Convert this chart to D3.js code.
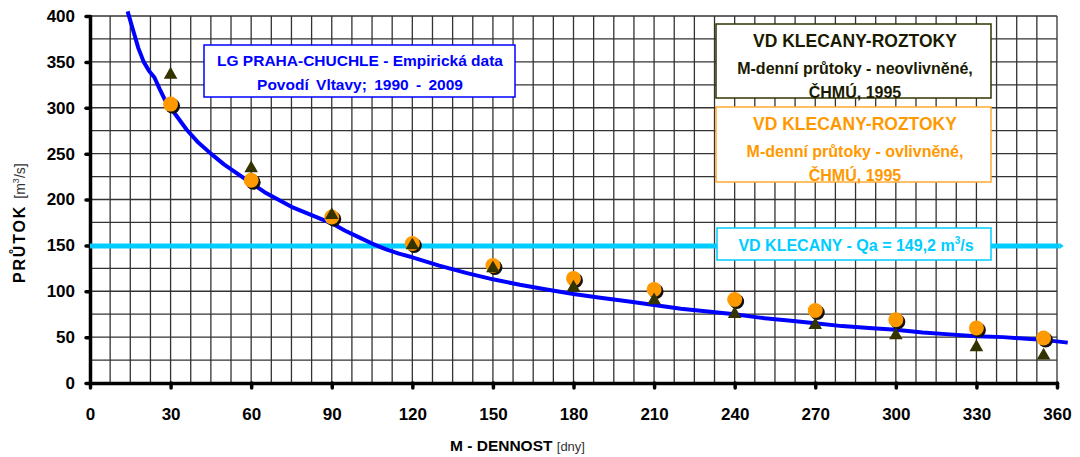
<!DOCTYPE html>
<html><head><meta charset="utf-8">
<script src="https://cdn.jsdelivr.net/npm/d3@7"></script>
<style>
html,body{margin:0;padding:0;background:#fff;}
svg{display:block;font-family:"Liberation Sans",Arial,sans-serif;}
</style></head>
<body><svg id="c" width="1080" height="457"></svg>
<script>
// ---- data ----
const curveDays = [14,16,18,20,22,24,26,28,30,33,36,40,45,50,55,60,65,70,75,80,85,90,95,100,105,110,115,120,130,140,150,160,170,180,190,200,210,220,230,240,250,260,270,280,290,300,310,320,330,340,350,355,364];
const curveFlow = [405,385,365,350,340,333,320,308,300,288,276,263,250,238,228,218,208,200,192,186,180,174,166,159,152,146,141,137,128,120,113,107,102,97,93,89,85,81,78,75,71,68,65,62,60,58,55,53,51,50,48,47,44];
const pointDays = [30,60,90,120,150,180,210,240,270,300,330,355];
const influenced = [304,221,181,152,128,114,102,91,79,69,60,49];     // ovlivněné (orange)
const uninfluenced = [336,234,183,150,125,104,90,75,63,52,39,30];   // neovlivněné (triangles)
const qa = 149.2;
const xTicks = [0,30,60,90,120,150,180,210,240,270,300,330,360];
const yTicks = [0,50,100,150,200,250,300,350,400];

// ---- setup ----
const svg = d3.select("#c");
const x = d3.scaleLinear().domain([0,360]).range([90,1057]);
const y = d3.scaleLinear().domain([0,400]).range([383,16]);

// grid
const g = svg.append("g");
g.selectAll(".vg").data(d3.range(0,360.1,7.5)).join("line")
  .attr("x1",d=>x(d)).attr("x2",d=>x(d)).attr("y1",y(0)).attr("y2",y(400))
  .attr("stroke","#333").attr("stroke-width",1.3);
g.selectAll(".hg").data(d3.range(0,400.1,25)).join("line")
  .attr("x1",x(0)).attr("x2",x(360)).attr("y1",d=>y(d)).attr("y2",d=>y(d))
  .attr("stroke","#333").attr("stroke-width",1.3);

// axes
const ax = svg.append("g").attr("transform",`translate(0,${y(0)})`)
  .call(d3.axisBottom(x).tickValues(xTicks).tickSize(5).tickPadding(20).tickSizeOuter(0));
const ay = svg.append("g").attr("transform",`translate(${x(0)},0)`)
  .call(d3.axisLeft(y).tickValues(yTicks).tickSize(4).tickPadding(8).tickSizeOuter(0));
[ax,ay].forEach(a=>{
  a.select(".domain").attr("stroke","#000").attr("stroke-width",3.5).attr("stroke-linecap","round");
  a.selectAll(".tick line").attr("stroke","#000").attr("stroke-width",3.5).attr("stroke-linecap","round");
  a.selectAll(".tick text").attr("fill","#000").attr("font-size",17).attr("font-weight","bold")
    .attr("font-family","'Liberation Sans',Arial,sans-serif");
});
ay.selectAll(".tick text").attr("dx",-3);

// Qa line
svg.append("line").attr("x1",x(0)).attr("x2",x(361)).attr("y1",y(qa)).attr("y2",y(qa))
  .attr("stroke","#00ccff").attr("stroke-width",5);
svg.append("path").attr("d",`M${x(361)},${y(qa)-3}L${x(361)+4},${y(qa)}L${x(361)},${y(qa)+3}Z`).attr("fill","#00ccff");
svg.append("rect").attr("x",717).attr("y",228).attr("width",274).attr("height",32)
  .attr("fill","#fff").attr("stroke","#00ccff").attr("stroke-width",1.5);
const qt = svg.append("text").attr("x",856).attr("y",251).attr("text-anchor","middle")
  .attr("fill","#00ccff").attr("font-size",16).attr("font-weight","bold");
qt.append("tspan").text("VD KLECANY - Qa = 149,2 m");
qt.append("tspan").attr("font-size",10).attr("dy",-7).text("3");
qt.append("tspan").attr("dy",7).text("/s");

// curve
const line = d3.line().x((d,i)=>x(curveDays[i])).y(d=>y(d));
svg.append("path").datum(curveFlow).attr("d",line).attr("fill","none")
  .attr("stroke","#0000ff").attr("stroke-width",4).attr("stroke-linejoin","round");

// orange points with shadow
svg.selectAll(".sh").data(influenced).join("circle")
  .attr("cx",(d,i)=>x(pointDays[i])+2).attr("cy",d=>y(d)+2).attr("r",7.5).attr("fill","#111");
svg.selectAll(".or").data(influenced).join("circle")
  .attr("cx",(d,i)=>x(pointDays[i])).attr("cy",d=>y(d)).attr("r",7.5).attr("fill","#ff9900");
// triangles
const tri = d3.symbol().type(d3.symbolTriangle).size(80);
svg.selectAll(".tr").data(uninfluenced).join("path")
  .attr("transform",(d,i)=>`translate(${x(pointDays[i])},${y(d)})`).attr("d",tri).attr("fill","#333300");

// blue box
svg.append("rect").attr("x",204).attr("y",45).attr("width",311).attr("height",52)
  .attr("fill","#fff").attr("stroke","#0000ff").attr("stroke-width",1.5);
svg.append("text").attr("x",360).attr("y",66).attr("text-anchor","middle").attr("fill","#0000ff")
  .attr("font-size",15.5).attr("font-weight","bold").text("LG PRAHA-CHUCHLE - Empirická data");
svg.append("text").attr("x",360).attr("y",90).attr("text-anchor","middle").attr("fill","#0000ff")
  .attr("font-size",15.5).attr("font-weight","bold").attr("word-spacing",3).text("Povodí Vltavy; 1990 - 2009");

// black box
svg.append("rect").attr("x",716).attr("y",24).attr("width",275).attr("height",74)
  .attr("fill","#fff").attr("stroke","#333300").attr("stroke-width",1.5);
svg.append("text").attr("x",855).attr("y",47).attr("text-anchor","middle").attr("fill","#1a1a00")
  .attr("font-size",17.5).attr("font-weight","bold").text("VD KLECANY-ROZTOKY");
svg.append("text").attr("x",855).attr("y",74).attr("text-anchor","middle").attr("fill","#1a1a00")
  .attr("font-size",16).attr("font-weight","bold").text("M-denní průtoky - neovlivněné,");
svg.append("text").attr("x",855).attr("y",98).attr("text-anchor","middle").attr("fill","#1a1a00")
  .attr("font-size",16).attr("font-weight","bold").text("ČHMÚ, 1995");

// orange box
svg.append("rect").attr("x",716).attr("y",107).attr("width",275).attr("height",75)
  .attr("fill","#fff").attr("stroke","#ffaa33").attr("stroke-width",1.5);
svg.append("text").attr("x",855).attr("y",130).attr("text-anchor","middle").attr("fill","#ff9900")
  .attr("font-size",17.5).attr("font-weight","bold").text("VD KLECANY-ROZTOKY");
svg.append("text").attr("x",855).attr("y",157).attr("text-anchor","middle").attr("fill","#ff9900")
  .attr("font-size",16).attr("font-weight","bold").text("M-denní průtoky - ovlivněné,");
svg.append("text").attr("x",855).attr("y",181).attr("text-anchor","middle").attr("fill","#ff9900")
  .attr("font-size",16).attr("font-weight","bold").text("ČHMÚ, 1995");

// axis titles
const xt = svg.append("text").attr("x",450).attr("y",451).attr("fill","#000");
xt.append("tspan").attr("font-size",15.5).attr("font-weight","bold").text("M - DENNOST ");
xt.append("tspan").attr("font-size",13).attr("fill","#333").text("[dny]");
const yt = svg.append("text").attr("transform","translate(25,283) rotate(-90)").attr("fill","#000");
yt.append("tspan").attr("font-size",16).attr("font-weight","bold").attr("letter-spacing",1.8).text("PRŮTOK ");
yt.append("tspan").attr("font-size",14).attr("fill","#333").text("[m");
yt.append("tspan").attr("font-size",9).attr("fill","#333").attr("dy",-6).text("3");
yt.append("tspan").attr("font-size",14).attr("fill","#333").attr("dy",6).text("/s]");
</script></body></html>
